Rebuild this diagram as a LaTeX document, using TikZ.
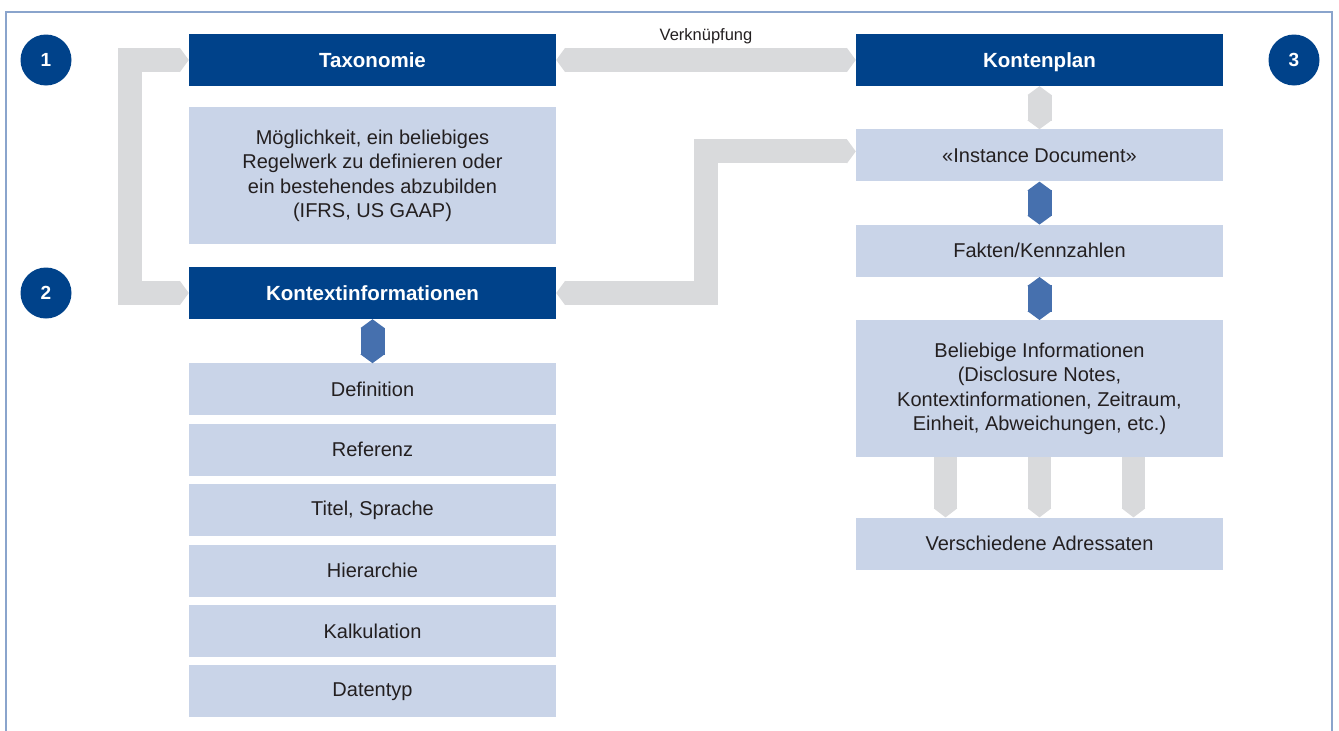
\documentclass[tikz,border=0pt]{standalone}
\usepackage{fontspec}
\setmainfont{Liberation Sans}
\usetikzlibrary{arrows.meta,positioning}
\definecolor{darkblue}{HTML}{00428A}
\definecolor{lightbox}{HTML}{C9D4E8}
\definecolor{greyarrow}{HTML}{D9DADC}
\definecolor{midblue}{HTML}{4670AE}
\definecolor{framecol}{HTML}{8AA4CC}
\definecolor{textgrey}{HTML}{231F20}
\tikzstyle{head}=[fill=darkblue,text=white,font=\bfseries\fontsize{20.5}{24}\selectfont,minimum width=367pt,minimum height=52pt,inner sep=0pt,text height=17pt,text depth=2pt]
\tikzstyle{info}=[fill=lightbox,text=textgrey,font=\fontsize{20}{24.5}\selectfont,minimum width=367pt,minimum height=52pt,inner sep=0pt,align=center]
\tikzstyle{num}=[circle,fill=darkblue,text=white,minimum size=51pt,inner sep=0pt,font=\bfseries\fontsize{19}{20}\selectfont]
\tikzstyle{fat}=[draw=greyarrow,line width=24pt,line join=miter,>={Triangle[width=0pt 1,length=9pt]}]

\begin{document}
\begin{tikzpicture}[x=1pt,y=-1pt]
    \useasboundingbox (0,0) rectangle (1339,731);
    \draw[framecol,line width=1.5pt] (6,745) -- (6,12) -- (1332,12) -- (1332,745);

    % numbers
    \node (n1) [num] at (46,60) {1};
    \node (n2) [num] at (46,293) {2};
    \node (n3) [num] at (1294,60) {3};

    % left column
    \node (tax) [head] at (372.5,60) {Taxonomie};
    \node (mog) [info,minimum height=137pt] [below=21pt of tax] {M\"oglichkeit, ein beliebiges\\Regelwerk zu definieren oder\\ein bestehendes abzubilden\\(IFRS, US GAAP)};
    \node (kon) [head] at (372.5,293) {Kontextinformationen};
    \node (def) [info] [below=44pt of kon] {Definition};
    \node (ref) [info] [below=8pt of def] {Referenz};
    \node (tit) [info] [below=8pt of ref] {Titel, Sprache};
    \node (hie) [info] [below=8pt of tit] {Hierarchie};
    \node (kal) [info] [below=8pt of hie] {Kalkulation};
    \node (dat) [info] [below=8pt of kal] {Datentyp};

    % right column
    \node (kp) [head] at (1039.5,60) {Kontenplan};
    \node (inst) [info] [below=43pt of kp] {«Instance Document»};
    \node (fak) [info] [below=43pt of inst] {Fakten/Kennzahlen};
    \node (bel) [info,minimum height=137pt] [below=43pt of fak] {Beliebige Informationen\\(Disclosure Notes,\\Kontextinformationen, Zeitraum,\\Einheit, Abweichungen, etc.)};
    \node (adr) [info] [below=60pt of bel] {Verschiedene Adressaten};

    % connectors
    \draw[fat,<->] (tax.west) -- ++(-58.5,0) |- (kon.west);
    \draw[fat,<->] (tax.east) -- node[yshift=24pt,text=textgrey,font=\fontsize{16.5}{18}\selectfont] {Verkn\"upfung} (kp.west);
    \draw[fat,<->] (kon.east) -- ++(149.5,0) |- ([yshift=4pt]inst.west);
    \draw[fat,<->] (kp.south) -- (inst.north);
    \draw[fat,draw=midblue,<->] (kon.south) -- (def.north);
    \draw[fat,draw=midblue,<->] (inst.south) -- (fak.north);
    \draw[fat,draw=midblue,<->] (fak.south) -- (bel.north);
    \foreach \dx in {-94,0,94}
        \draw[fat,line width=23pt,->] ([xshift=\dx pt]bel.south) -- ([xshift=\dx pt]adr.north);
\end{tikzpicture}
\end{document}
